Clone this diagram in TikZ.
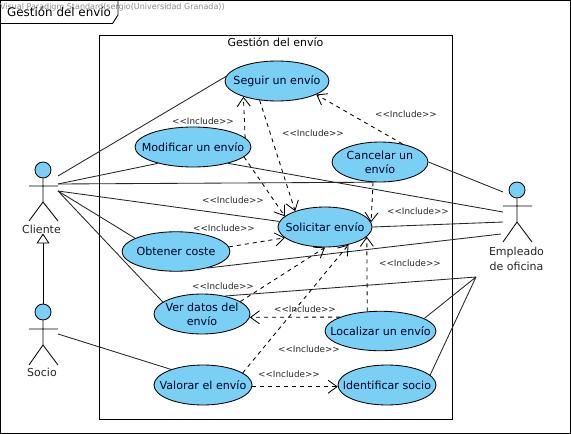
\documentclass[tikz,border=0pt]{standalone}
\usepackage{fontspec}
\setmainfont{DejaVu Sans}
\usetikzlibrary{shapes.geometric,arrows.meta}
\definecolor{ucfill}{HTML}{7ACFF5}
\tikzset{
  uc/.style={draw=black,fill=ucfill,ellipse,inner sep=0pt,line width=0.85pt},
  uctext/.style={align=center,inner sep=0pt,font=\fontsize{11.1}{14}\selectfont,text=black!85!blue},
  assoc/.style={draw=black!85,line width=0.85pt},
  incl/.style={draw=black,line width=0.85pt,dash pattern=on 4pt off 4pt,-{Straight Barb[length=9pt,width=13pt,line width=0.85pt]}},
  inclabel/.style={font=\fontsize{8.8}{10}\selectfont,text=black!85,inner sep=0pt},
  titlelabel/.style={font=\fontsize{11}{14}\selectfont,inner sep=0pt},
  actorlabel/.style={font=\fontsize{11}{14.5}\selectfont,align=center,inner sep=0pt,text=black!85},
  head/.style={draw=black,fill=ucfill,circle,minimum size=16pt,inner sep=0pt,line width=0.85pt},
  limb/.style={draw=black,line width=0.85pt}
}
\newcommand{\inc}{<{}<Include>{}>}
\begin{document}
\begin{tikzpicture}[x=1pt,y=-1pt]
\useasboundingbox (0,0) rectangle (571,434);
\fill[white] (0,0) rectangle (571,434);
% frame
\draw[line width=0.9pt] (0.5,0.5) rectangle (570,433);
\node[anchor=west,inner sep=0pt,font=\fontsize{8}{9}\selectfont,text=black!45] (wm) at (0,7) {Visual Paradigm Standard(sergio(Universidad Granada))};
\draw[line width=0.9pt] (118,0.5) -- (118,15) -- (112.5,23.5) -- (0.5,23.5);
\node[titlelabel,anchor=west,font=\fontsize{11.9}{14}\selectfont] (frametitle) at (7,12) {Gestión del envío};
% system
\draw[line width=0.9pt] (99.5,35.5) rectangle (452,419);
\node[titlelabel] (systitle) at (275.5,42) {Gestión del envío};
% coordinates for free ends
\coordinate (c1) at (58,176);
\coordinate (c2) at (58,184);
\coordinate (c3) at (58,191);
\coordinate (s1) at (58,334);
\coordinate (e1) at (503,192);
\coordinate (e2) at (503,212);
\coordinate (e3) at (503,222);
\coordinate (e4) at (501,234);
\coordinate (j) at (476,277);
% use cases
\node[uc,minimum width=104pt,minimum height=40pt,label={[uctext]center:Seguir un envío}] (seguir) at (277,81) {};
\node[uc,minimum width=116pt,minimum height=40pt,label={[uctext]center:Modificar un envío}] (modificar) at (193,147) {};
\node[uc,minimum width=96pt,minimum height=40pt,label={[uctext]center:Cancelar un\\envío}] (cancelar) at (380,162) {};
\node[uc,minimum width=94pt,minimum height=40pt,label={[uctext]center:Solicitar envío}] (solicitar) at (325,227) {};
\node[uc,minimum width=108pt,minimum height=39.5pt,label={[uctext]center:Obtener coste}] (obtener) at (176,251.5) {};
\node[uc,minimum width=96pt,minimum height=40pt,label={[uctext]center:Ver datos del\\envío}] (ver) at (202,314) {};
\node[uc,minimum width=111pt,minimum height=39.5pt,label={[uctext]center:Localizar un envío}] (localizar) at (380.5,331) {};
\node[uc,minimum width=98pt,minimum height=40pt,label={[uctext]center:Valorar el envío}] (valorar) at (203,385) {};
\node[uc,minimum width=98pt,minimum height=40pt,label={[uctext]center:Identificar socio}] (identificar) at (387,385) {};
% associations
\draw[assoc] (c1) -- (seguir.175.5);
\draw[assoc] (c2) -- (modificar.205);
\draw[assoc] (c2) -- (cancelar.251);
\draw[assoc] (c3) -- (solicitar.173);
\draw[assoc] (c3) -- (obtener.162.6);
\draw[assoc] (c3) -- (ver.163);
\draw[assoc] (s1) -- (valorar.154);
\draw[assoc] (modificar.335) -- (e2);
\draw[assoc] (cancelar.0) -- (e1);
\draw[assoc] (solicitar.0) -- (e3);
\draw[assoc] (obtener.332) -- (e4);
\draw[assoc] (ver.38) -- (j);
\draw[assoc] (localizar.16) -- (j);
\draw[assoc] (identificar.13) -- (j);
% includes
\draw[incl] (modificar.10) -- (seguir.205.9);
\draw[incl] (modificar.349) -- (solicitar.165);
\draw[incl] (seguir.228) -- (solicitar.152);
\draw[incl] (cancelar.39) -- (seguir.341.6);
\draw[incl] (cancelar.251) -- (solicitar.6);
\draw[incl] (obtener.5) -- (solicitar.195);
\draw[incl] (ver.18) -- (solicitar.270);
\draw[incl] (valorar.17) -- (solicitar.323.5);
\draw[incl] (localizar.124) -- (solicitar.347);
\draw[incl] (localizar.161.8) -- (ver.356);
\draw[incl] (valorar.358) -- (identificar.182);
% include labels
\node[inclabel] (l1) at (203,121) {\inc};
\node[inclabel] (l2) at (313,133) {\inc};
\node[inclabel] (l3) at (406,114) {\inc};
\node[inclabel] (l4) at (233,200) {\inc};
\node[inclabel] (l5) at (418,211) {\inc};
\node[inclabel] (l6) at (224,228) {\inc};
\node[inclabel] (l7) at (223,286) {\inc};
\node[inclabel] (l8) at (305,309) {\inc};
\node[inclabel] (l9) at (410,263) {\inc};
\node[inclabel] (l10) at (309,349) {\inc};
\node[inclabel] (l11) at (289,374) {\inc};
% actor Cliente
\node[head] (hc) at (43,170) {};
\draw[limb] (hc) -- (43,202) (29,186) -- (58,186) (29,221) -- (43,202) -- (58,221);
\node[actorlabel] (cliente) at (41.5,229) {Cliente};
% actor Socio
\node[head] (hs) at (43,312) {};
\draw[limb] (hs) -- (43,345) (29,329) -- (58,329) (29,365) -- (43,345) -- (58,365);
\node[actorlabel] (socio) at (42,372) {Socio};
% generalisation
\draw[line width=0.85pt,-{Triangle[open,length=10pt,width=13pt,line width=0.85pt]}] (hs) -- (cliente.south -| hs);
% actor Empleado
\node[head] (he) at (517,190) {};
\draw[limb] (he) -- (517,222) (503,206) -- (532,206) (503,242) -- (517,222) -- (532,242);
\node[actorlabel] (empleado) at (516.5,259) {Empleado\\de oficina};
\end{tikzpicture}
\end{document}
